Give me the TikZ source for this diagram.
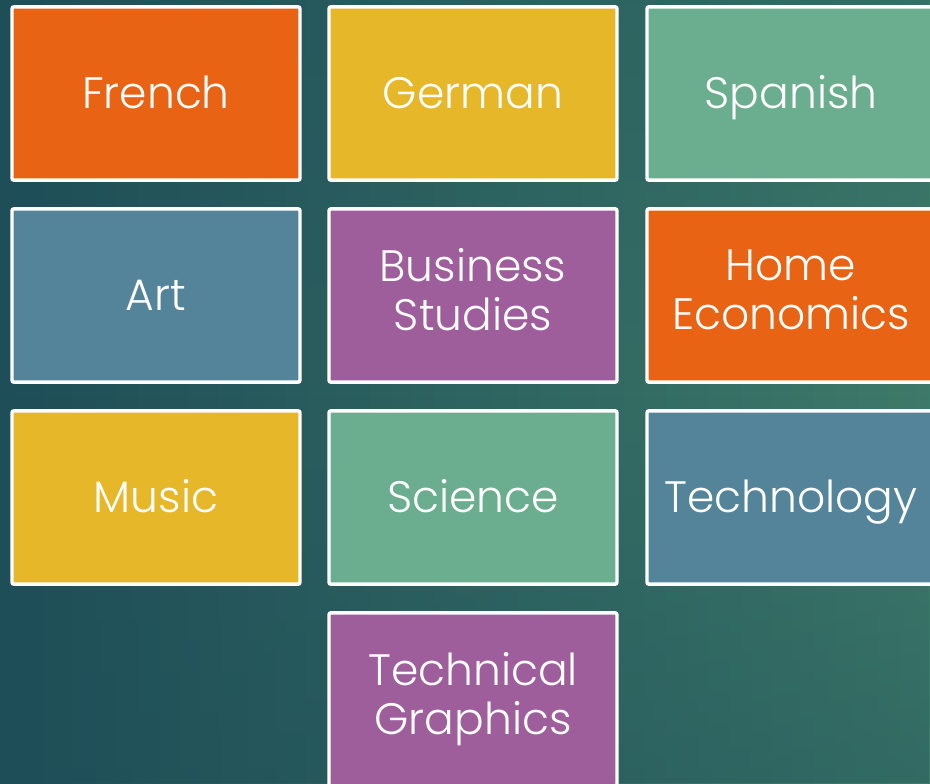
\documentclass[tikz,border=0pt]{standalone}
\usepackage{fontspec}
\setmainfont{Poppins}[UprightFont=* Light]
\usetikzlibrary{fadings}
\definecolor{bgdark}{RGB}{30,78,88}
\definecolor{bglight}{RGB}{62,122,106}
\definecolor{subjorange}{RGB}{233,99,20}
\definecolor{subjyellow}{RGB}{230,183,41}
\definecolor{subjgreen}{RGB}{106,174,143}
\definecolor{subjblue}{RGB}{84,132,153}
\definecolor{subjpurple}{RGB}{158,94,155}
\newcommand{\subjstrut}{\rule[-9pt]{0pt}{40.3pt}}
\tikzset{every picture/.style={line width=0.75pt}}
\tikzset{subject/.style={draw=white, line width=2.6pt, rounded corners=1.5pt, text=white,
  minimum width=216pt, minimum height=130pt, inner sep=0pt, align=center,
  font=\fontsize{33}{37}\selectfont,
  execute at begin node=\subjstrut, execute at end node=\subjstrut}}

\begin{document}
\begin{tikzpicture}[x=0.75pt,y=0.75pt,yscale=-1,xscale=1]
\useasboundingbox (0,0) rectangle (930,783);

%Shape: Background
\shade [left color=bgdark, right color=bglight] (0,0) rectangle (930,783);
\fill [bgdark, opacity=0.35, path fading=north] (0,392) rectangle (930,783);
\fill [bgdark, opacity=0.25, path fading=south] (0,0) rectangle (930,392);

% Row 1
\node [subject, fill=subjorange] (french) at (156,93.5) {French};
\node [subject, fill=subjyellow] (german) at (473,93.5) {German};
\node [subject, fill=subjgreen] (spanish) at (791,93.5) {Spanish};
% Row 2
\node [subject, fill=subjblue] (art) at (156,295.5) {Art};
\node [subject, fill=subjpurple] (business) at (473,295.5) {Business\\Studies};
\node [subject, fill=subjorange] (homeec) at (791,295.5) {Home\\Economics};
% Row 3
\node [subject, fill=subjyellow] (music) at (156,497.5) {Music};
\node [subject, fill=subjgreen] (science) at (473,497.5) {Science};
\node [subject, fill=subjblue] (technology) at (791,497.5) {Technology};
% Row 4
\node [subject, fill=subjpurple] (techgraphics) at (473,699.5) {Technical\\Graphics};

\end{tikzpicture}
\end{document}
